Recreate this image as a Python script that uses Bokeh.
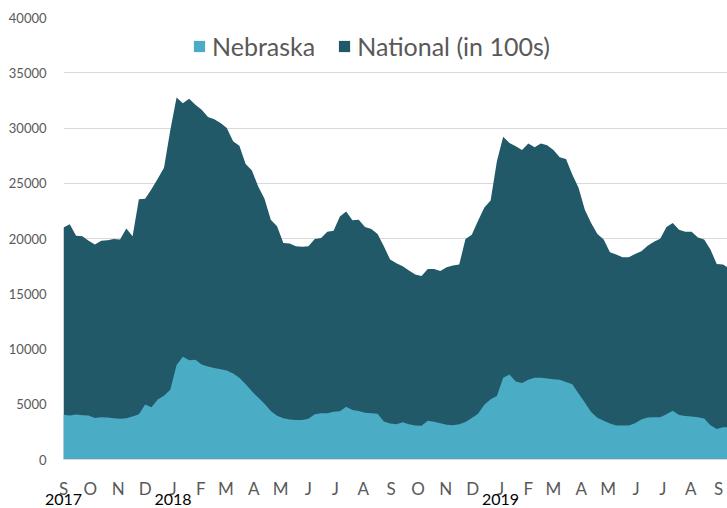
import pandas as pd
from bokeh.plotting import figure
from bokeh.models import (Range1d, FixedTicker, NumeralTickFormatter, Legend,
                          LegendItem, LinearAxis, ColumnDataSource)
from bokeh.embed import file_html
from bokeh.resources import INLINE

# ---- data (weekly, starting 2017-09-01) ----
start_date = "2017-09-01"
n_weeks = 107

national = [21000, 21300, 20250, 20200, 19800, 19450, 19800, 19850, 19950, 19900,
            20900, 20200, 23550, 23600, 24450, 25400, 26400, 29800, 32750, 32250,
            32650, 32100, 31650, 31000, 30800, 30450, 30000, 28800, 28400, 26750,
            26150, 24700, 23600, 21700, 21100, 19600, 19550, 19300, 19250, 19300,
            19950, 20050, 20600, 20700, 22000, 22450, 21650, 21700, 21050, 20850,
            20400, 19300, 18100, 17750, 17500, 17100, 16750, 16600, 17250, 17250,
            17050, 17400, 17550, 17650, 19950, 20350, 21600, 22800, 23450, 27000,
            29200, 28650, 28350, 28000, 28600, 28250, 28600, 28450, 28000, 27350,
            27200, 25800, 24600, 22600, 21400, 20400, 19900, 18750, 18550, 18300,
            18300, 18600, 18850, 19350, 19700, 19980, 21050, 21400, 20800, 20600,
            20620, 20100, 19900, 19000, 17700, 17650, 17300]

nebraska = [4050, 3980, 4070, 4000, 3980, 3750, 3830, 3800, 3730, 3690,
            3740, 3890, 4100, 4980, 4730, 5430, 5770, 6320, 8550, 9300,
            8980, 9020, 8600, 8420, 8270, 8160, 8050, 7780, 7400, 6820,
            6170, 5600, 5050, 4380, 3970, 3740, 3620, 3570, 3570, 3680,
            4100, 4190, 4190, 4320, 4360, 4780, 4480, 4380, 4230, 4190,
            4150, 3450, 3250, 3200, 3380, 3200, 3070, 3050, 3500, 3420,
            3280, 3150, 3100, 3200, 3400, 3750, 4150, 4950, 5450, 5750,
            7400, 7690, 7050, 6920, 7220, 7400, 7400, 7320, 7270, 7220,
            7020, 6820, 5980, 5150, 4300, 3780, 3500, 3250, 3080, 3080,
            3080, 3270, 3630, 3800, 3830, 3830, 4100, 4420, 4030, 3930,
            3900, 3830, 3700, 3100, 2750, 2920, 2920]

month_labels = ["S", "O", "N", "D", "J", "F", "M", "A", "M", "J", "J", "A",
                "S", "O", "N", "D", "J", "F", "M", "A", "M", "J", "J", "A", "S"]
year_labels = ["2017", "2018", "2019"]
year_dates = ["2017-09-01", "2018-01-01", "2019-01-01"]
y_ticks = [0, 5000, 10000, 15000, 20000, 25000, 30000, 35000, 40000]

# ---- derived positions (days since start) ----
start = pd.Timestamp(start_date)
weeks = pd.date_range(start, periods=n_weeks, freq="7D")
days = [int(d) for d in (weeks - start).days]
months = pd.date_range(start_date, "2019-09-01", freq="MS")
month_days = [int(d) for d in (months - start).days]
year_days = [int((pd.Timestamp(d) - start).days) for d in year_dates]

src = ColumnDataSource(dict(x=days, national=national, nebraska=nebraska))

FONT = "Lato"
GRAY = "#595959"
DARK = "#225968"
LIGHT = "#4BACC6"

p = figure(width=727, height=508, output_backend="svg", toolbar_location=None,
           x_range=Range1d(0, 740), y_range=Range1d(0, 40000),
           min_border_left=63, min_border_right=0, min_border_top=17,
           min_border_bottom=49)
p.outline_line_color = None
p.background_fill_color = "white"
p.border_fill_color = "white"

r_nat = p.varea(x="x", y1=0, y2="national", source=src, fill_color=DARK)
r_neb = p.varea(x="x", y1=0, y2="nebraska", source=src, fill_color=LIGHT)

# grid
p.xgrid.grid_line_color = None
p.ygrid.grid_line_color = "#D9D9D9"
p.ygrid.grid_line_width = 1
p.ygrid.ticker = FixedTicker(ticks=y_ticks)

# y axis
p.yaxis.ticker = FixedTicker(ticks=y_ticks)
p.yaxis.formatter = NumeralTickFormatter(format="0")
p.yaxis.axis_line_color = None
p.yaxis.major_tick_line_color = None
p.yaxis.minor_tick_line_color = None
p.yaxis.major_label_text_font = FONT
p.yaxis.major_label_text_font_size = "13px"
p.yaxis.major_label_text_color = GRAY
p.yaxis.major_label_standoff = 11

# x axis (months)
p.xaxis.ticker = FixedTicker(ticks=month_days)
p.xaxis.major_label_overrides = {d: lab for d, lab in zip(month_days, month_labels)}
p.xaxis.axis_line_color = "#D9D9D9"
p.xaxis.major_tick_line_color = None
p.xaxis.minor_tick_line_color = None
p.xaxis.major_tick_out = 0
p.xaxis.major_label_text_font = FONT
p.xaxis.major_label_text_font_size = "17px"
p.xaxis.major_label_text_color = GRAY
p.xaxis.major_label_standoff = 18

# second axis for years
year_axis = LinearAxis(ticker=FixedTicker(ticks=year_days),
                       major_label_overrides={d: lab for d, lab in zip(year_days, year_labels)},
                       axis_line_color=None, major_tick_line_color=None,
                       minor_tick_line_color=None, major_tick_out=0,
                       major_label_text_font=FONT, major_label_text_font_size="16px",
                       major_label_text_color="black", major_label_standoff=-8)
p.add_layout(year_axis, "below")

legend = Legend(items=[LegendItem(label="Nebraska", renderers=[r_neb]),
                       LegendItem(label="National (in 100s)", renderers=[r_nat])],
                orientation="horizontal", location=(129, 398),
                border_line_color=None, background_fill_alpha=0,
                label_text_font=FONT, label_text_font_size="25px",
                label_text_color=GRAY, glyph_width=14, glyph_height=14,
                spacing=22, label_standoff=6, padding=0, margin=0)
p.add_layout(legend)

open("out.html", "w").write(file_html(p, INLINE))
